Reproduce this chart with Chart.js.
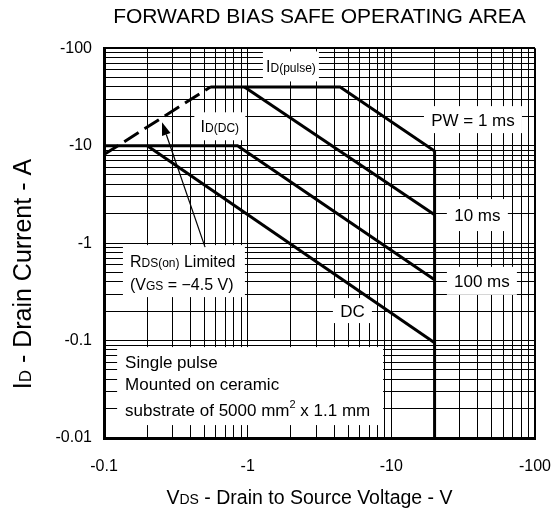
<!DOCTYPE html>
<html>
<head>
<meta charset="utf-8">
<script src="https://cdn.jsdelivr.net/npm/chart.js@4"></script>
<style>
  html, body { margin: 0; padding: 0; background: #fff; }
</style>
</head>
<body>
<canvas id="soa" width="554" height="512"></canvas>
<script>
/* Forward bias safe operating area (log-log).
   Voltages and currents are stored as magnitudes, the axes print them negative. */

const xDecades = [0.1, 1, 10, 100];          // VDS, V
const yDecades = [0.01, 0.1, 1, 10, 100];    // ID, A

// [VDS, ID] corner points of each boundary
const rdsLimit = [[0.1, 8.1], [0.55, 40]];
const pw1ms    = [[0.55, 40], [4.4, 40], [20, 8.8], [20, 0.01]];
const pw10ms   = [[0.95, 40], [20, 1.95]];
const pw100ms  = [[0.1, 10], [0.85, 10], [20, 0.42]];
const dcLine   = [[0.2, 10], [20, 0.095]];

const FONT = "'Liberation Sans', Arial, sans-serif";

// in-plot labels: anchor in data units, white box size in px, baseline offsets in px
const notes = [
  { x: 2.0,  y: 65,    w: 56,  h: 30, lines: [{ dy: 6, parts: [['I', 16], ['D(pulse)', 12]] }] },
  { x: 0.64, y: 15.8,  w: 51,  h: 28, lines: [{ dy: 6, parts: [['I', 16], ['D(DC)', 12]] }] },
  { x: 37,   y: 18.5,  w: 98,  h: 27, lines: [{ dy: 6, parts: [['PW = 1 ms', 17]] }] },
  { x: 39.7, y: 1.94,  w: 61,  h: 32, lines: [{ dy: 6, parts: [['10 ms', 17]] }] },
  { x: 42.7, y: 0.41,  w: 70,  h: 28, lines: [{ dy: 6, parts: [['100 ms', 17]] }] },
  { x: 5.36, y: 0.203, w: 39,  h: 25, lines: [{ dy: 6, parts: [['DC', 17]] }] },
  { x: 0.36, y: 0.516, w: 122, h: 52, left: 7, lines: [
    { dy: -4, parts: [['R', 16], ['DS(on)', 12], [' Limited', 16]] },
    { dy: 19, parts: [['(V', 16], ['GS', 12], [' = \u22124.5 V)', 16]] },
  ] },
  { x: 1.04, y: 0.0341, w: 266, h: 78, left: 8, lines: [
    { dy: -18, parts: [['Single pulse', 17]] },
    { dy: 4,   parts: [['Mounted on ceramic', 17]] },
    { dy: 30,  parts: [['substrate of 5000 mm', 17], ['2', 11, -8], [' x 1.1 mm', 17]] },
  ] },
];

// arrow from the RDS(on) label up to the dashed limit line
const arrow = { from: [0.505, 0.91], to: [0.2535, 17.4] };

function gridValues(lo, hi) {
  const out = [];
  for (let e = Math.round(Math.log10(lo)); e < Math.round(Math.log10(hi)); e++) {
    for (let m = 1; m < 10; m++) out.push(Number((m * Math.pow(10, e)).toPrecision(2)));
  }
  out.push(hi);
  return out;
}
const isDecade = (list, v) => list.some((d) => Math.abs(d - v) < d * 1e-6);

function richWidth(ctx, parts) {
  let w = 0;
  parts.forEach(([t, s]) => { ctx.font = s + 'px ' + FONT; w += ctx.measureText(t).width; });
  return w;
}
function drawRich(ctx, parts, x, y, centered) {
  let cx = centered ? x - richWidth(ctx, parts) / 2 : x;
  parts.forEach(([t, s, dy]) => {
    ctx.font = s + 'px ' + FONT;
    ctx.fillText(t, cx, y + (dy || 0));
    cx += ctx.measureText(t).width;
  });
}

const decorations = {
  id: 'decorations',
  beforeDatasetsDraw(chart) {
    // label boxes hide the grid behind them
    const { ctx, scales: { x, y } } = chart;
    ctx.save();
    ctx.fillStyle = '#fff';
    notes.forEach((n) => {
      const cx = x.getPixelForValue(n.x), cy = y.getPixelForValue(n.y);
      ctx.fillRect(cx - n.w / 2, cy - n.h / 2, n.w, n.h);
    });
    ctx.restore();
  },
  afterDatasetsDraw(chart) {
    const { ctx, scales: { x, y } } = chart;
    ctx.save();
    ctx.fillStyle = '#000';
    ctx.textBaseline = 'alphabetic';
    notes.forEach((n) => {
      const cx = x.getPixelForValue(n.x), cy = y.getPixelForValue(n.y);
      n.lines.forEach((ln) => {
        if (n.left !== undefined) drawRich(ctx, ln.parts, cx - n.w / 2 + n.left, cy + ln.dy, false);
        else drawRich(ctx, ln.parts, cx, cy + ln.dy, true);
      });
    });

    // arrow
    const x0 = x.getPixelForValue(arrow.from[0]), y0 = y.getPixelForValue(arrow.from[1]);
    const x1 = x.getPixelForValue(arrow.to[0]), y1 = y.getPixelForValue(arrow.to[1]);
    const ang = Math.atan2(y1 - y0, x1 - x0);
    const hl = 13, hw = 4.5;
    ctx.strokeStyle = '#000';
    ctx.lineWidth = 1.2;
    ctx.beginPath();
    ctx.moveTo(x0, y0);
    ctx.lineTo(x1 - Math.cos(ang) * hl, y1 - Math.sin(ang) * hl);
    ctx.stroke();
    ctx.beginPath();
    ctx.moveTo(x1, y1);
    ctx.lineTo(x1 - Math.cos(ang) * hl - Math.sin(ang) * hw, y1 - Math.sin(ang) * hl + Math.cos(ang) * hw);
    ctx.lineTo(x1 - Math.cos(ang) * hl + Math.sin(ang) * hw, y1 - Math.sin(ang) * hl - Math.cos(ang) * hw);
    ctx.closePath();
    ctx.fill();
    ctx.restore();
  },
  afterDraw(chart) {
    // axis titles with small-letter subscripts
    const { ctx, chartArea: a } = chart;
    ctx.save();
    ctx.fillStyle = '#000';
    drawRich(ctx, [['V', 19.5], ['DS', 14], [' - Drain to Source Voltage - V', 19.5]],
      (a.left + a.right) / 2 - 10, a.bottom + 66, true);
    ctx.translate(31, (a.top + a.bottom) / 2 + 31);
    ctx.rotate(-Math.PI / 2);
    drawRich(ctx, [['I', 25], ['D', 17], [' - Drain Current - A', 25]], 0, 0, true);
    ctx.restore();
  },
};

const line = (pts, dash) => ({
  data: pts.map(([x, y]) => ({ x, y })),
  showLine: true,
  borderColor: '#000',
  borderWidth: 3,
  borderDash: dash || [],
  borderJoinStyle: 'miter',
  borderCapStyle: 'butt',
  pointRadius: 0,
  fill: false,
});

new Chart(document.getElementById('soa'), {
  type: 'scatter',
  data: {
    datasets: [
      line(rdsLimit, [17, 7]),
      line(pw1ms),
      line(pw10ms),
      line(pw100ms),
      line(dcLine),
    ],
  },
  plugins: [decorations],
  options: {
    responsive: false,
    animation: false,
    layout: { padding: { right: 19 } },
    plugins: {
      legend: { display: false },
      tooltip: { enabled: false },
      title: {
        display: true,
        text: 'FORWARD BIAS SAFE OPERATING AREA',
        color: '#000',
        fullSize: false,
        font: { family: FONT, size: 21, weight: 'normal' },
        padding: { top: 5, bottom: 18 },
      },
    },
    scales: {
      x: {
        type: 'logarithmic',
        min: xDecades[0],
        max: xDecades[xDecades.length - 1],
        afterBuildTicks: (s) => { s.ticks = gridValues(s.min, s.max).map((value) => ({ value })); },
        afterFit: (s) => { s.height = 74; s.paddingLeft = 0; s.paddingRight = 0; },
        ticks: {
          autoSkip: false,
          maxRotation: 0,
          padding: 19,
          color: '#000',
          font: { family: FONT, size: 16 },
          callback: (v) => (isDecade(xDecades, v) ? '-' + v : ''),
        },
        grid: {
          color: '#000',
          drawTicks: false,
          lineWidth: (c) => (c.tick && c.tick.value === xDecades[xDecades.length - 1] ? 2 : 1),
        },
        border: { display: true, color: '#000', width: 3 },
      },
      y: {
        type: 'logarithmic',
        min: yDecades[0],
        max: yDecades[yDecades.length - 1],
        afterBuildTicks: (s) => { s.ticks = gridValues(s.min, s.max).map((value) => ({ value })); },
        afterFit: (s) => { s.width = 104; s.paddingTop = 0; s.paddingBottom = 0; },
        ticks: {
          autoSkip: false,
          padding: 12,
          color: '#000',
          font: { family: FONT, size: 16 },
          callback: (v) => (isDecade(yDecades, v) ? '-' + v : ''),
        },
        grid: {
          color: '#000',
          drawTicks: false,
          lineWidth: (c) => (c.tick && c.tick.value === yDecades[yDecades.length - 1] ? 2 : 1),
        },
        border: { display: true, color: '#000', width: 3 },
      },
    },
  },
});
</script>
</body>
</html>
